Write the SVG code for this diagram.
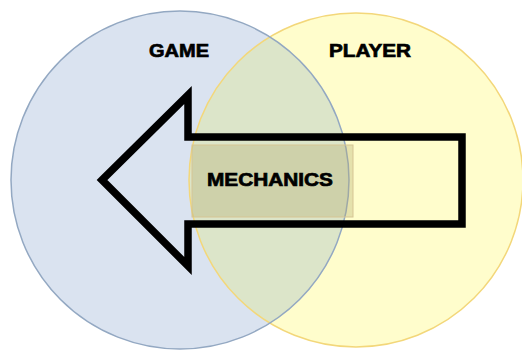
<svg xmlns="http://www.w3.org/2000/svg" width="522" height="352" viewBox="0 0 522 352">
  <style>
    .lbl { font-family: "Liberation Sans", Arial, sans-serif; font-weight: bold; font-size: 19px; fill: #000; stroke: #000; stroke-width: 0.7; }
  </style>
  <defs>
    <clipPath id="clipBlue"><circle cx="180" cy="180" r="169"/></clipPath>
  </defs>
  <rect width="522" height="352" fill="#ffffff"/>
  <g id="game">
    <circle cx="180" cy="180" r="169" fill="#dae3f0"/>
  </g>
  <g id="player">
    <circle cx="356" cy="180" r="167" fill="#fffdcc"/>
    <circle cx="356" cy="180" r="167" fill="#dce5c9" clip-path="url(#clipBlue)"/>
    <circle cx="356" cy="180" r="167" fill="none" stroke="#f3d77a" stroke-width="1.5"/>
  </g>
  <g id="game-outline">
    <circle cx="180" cy="180" r="169" fill="none" stroke="#93a8c2" stroke-width="1.5"/>
  </g>
  <g id="connectors">
    <polygon points="102,180 188,95 188,137 462,137 462,224 188,224 188,266" fill="none" stroke="#000" stroke-width="7.5" stroke-miterlimit="10"/>
  </g>
  <g id="mechanics">
    <rect x="192" y="145" width="161" height="72" fill="rgb(180,170,110)" fill-opacity="0.34" stroke="#d6c594" stroke-width="1"/>
    <text class="lbl" x="207" y="186" textLength="126" lengthAdjust="spacingAndGlyphs">MECHANICS</text>
  </g>
  <g id="game-label">
    <text class="lbl" x="149" y="57" textLength="60" lengthAdjust="spacingAndGlyphs">GAME</text>
  </g>
  <g id="player-label">
    <text class="lbl" x="329" y="57" textLength="82" lengthAdjust="spacingAndGlyphs">PLAYER</text>
  </g>
</svg>
